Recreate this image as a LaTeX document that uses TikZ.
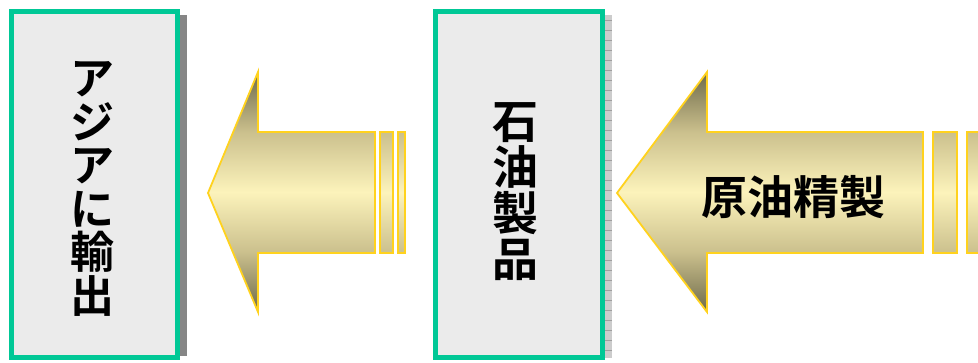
\documentclass[tikz,border=0pt]{standalone}
\usepackage{fontspec}
\newfontfamily\cjk{Noto Sans CJK JP}[BoldFont={Noto Sans CJK JP Bold}]
\definecolor{adk}{HTML}{6E6A4A}
\definecolor{amid}{HTML}{CBC08D}
\definecolor{alt}{HTML}{FCF3BB}
\definecolor{agold}{HTML}{FFD21E}
\definecolor{bgreen}{HTML}{00C896}
\definecolor{bfill}{HTML}{EBEBEB}
\pgfdeclareverticalshading{arrowshade}{100bp}{color(0bp)=(adk); color(25bp)=(adk); color(37.5bp)=(amid); color(50bp)=(alt); color(62.5bp)=(amid); color(75bp)=(adk); color(100bp)=(adk)}
\pgfdeclareverticalshading{stripeshade}{100bp}{color(0bp)=(amid); color(25bp)=(amid); color(50bp)=(alt); color(75bp)=(amid); color(100bp)=(amid)}
\tikzset{
  boxshape/.style={draw=bgreen, line width=5pt, fill=bfill, inner sep=0pt},
  arrowshape/.style={draw=agold, line width=1.8pt, line join=miter, shading=arrowshade},
  stripeshape/.style={draw=agold, line width=1.8pt, shading=stripeshade},
  bigtext/.style={font=\cjk\bfseries\fontsize{44}{43.5}\selectfont, align=center, inner sep=0pt},
  midtext/.style={font=\cjk\bfseries\fontsize{46}{46}\selectfont, align=center, inner sep=0pt}
}
\begin{document}
\begin{tikzpicture}[x=1pt,y=-1pt]
\useasboundingbox (0,0) rectangle (978,362);
% shadows
\fill[gray!95] (180,15) rectangle (187,356);
\fill[gray!40] (605,15) rectangle (612,358);
\foreach \yy in {20,30,...,350} \draw[gray!75, line width=0.8pt] (605,\yy) -- (612,\yy);
% boxes
\node[boxshape, minimum width=166pt, minimum height=346pt] (exportbox) at (94.5,184.5) {};
\node[boxshape, minimum width=167pt, minimum height=346pt] (prodbox) at (519,184.5) {};
\node[bigtext] (exporttext) at (92,189) {ア\\ジ\\ア\\に\\輸\\出};
\node[midtext] (prodtext) at (515,192) {石\\油\\製\\品};
% left arrow
\shade[arrowshape] (208,193) -- (258,72) -- (258,132) -- (375,132) -- (375,253) -- (258,253) -- (258,312) -- cycle;
\shade[stripeshape] (380,132) rectangle (393,253);
\shade[stripeshape] (398,132) rectangle (405,253);
% right arrow
\shade[arrowshape] (617,193) -- (707,72) -- (707,132) -- (923,132) -- (923,253) -- (707,253) -- (707,312) -- cycle;
\shade[stripeshape] (933,132) rectangle (957,253);
\shade[stripeshape] (967,132) rectangle (992,253);
\node[font=\cjk\bfseries\fontsize{46}{46}\selectfont, inner sep=0pt] (refinetext) at (793,197) {原油精製};
\end{tikzpicture}
\end{document}
